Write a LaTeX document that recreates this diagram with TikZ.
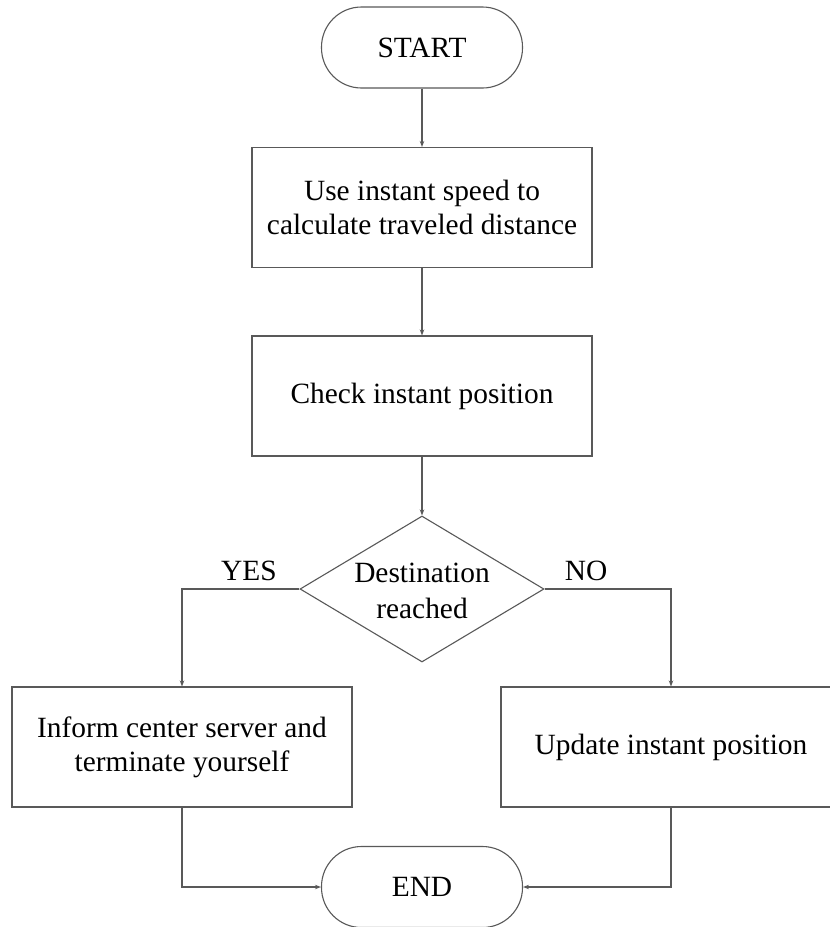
\documentclass[tikz,border=0pt]{standalone}
\usepackage{fontspec}
\setmainfont{Liberation Serif}
\usetikzlibrary{arrows.meta,shapes.geometric}

\tikzset{
  base/.style={draw=black!65, line width=1.1bp, align=center, inner sep=0pt,
    font=\fontsize{29.5}{34}\selectfont, text=black},
  pill/.style={base, rectangle, rounded corners=40bp, minimum width=201bp, minimum height=81bp},
  stepbox/.style={base, rectangle, minimum width=340bp, minimum height=120bp},
  decision/.style={draw=black!65, line width=1.1bp, diamond, inner sep=0pt,
    minimum width=244bp, minimum height=146bp},
  label/.style={align=center, inner sep=0pt, font=\fontsize{29.5}{36}\selectfont, text=black},
  flow/.style={draw=black!65, line width=1.1bp, -{Stealth[length=6bp,width=4.5bp]}},
  branch/.style={font=\fontsize{29.5}{34}\selectfont, text=black}
}

\begin{document}
\begin{tikzpicture}[x=1bp, y=-1bp]
  \clip (0,0) rectangle (830,927);
  \fill[white] (0,0) rectangle (830,927);

  \node[pill]     (start) at (422,47.5) {START};
  \node[stepbox]  (calc)  at (422,207.5) {Use instant speed to\\calculate traveled distance};
  \node[stepbox]  (check) at (422,396) {Check instant position};
  \node[decision] (dest)  at (422,589) {};
  \node[label]    (destText) at (422,591) {Destination\\reached};
  \node[stepbox]  (inform) at (182,747) {Inform center server and\\terminate yourself};
  \node[stepbox]  (update) at (671,747) {Update instant position};
  \node[pill]     (finish) at (422,887) {END};

  \node[branch] (yes) at (249,571) {YES};
  \node[branch] (no)  at (586,571) {NO};

  \draw[flow] (start) -- (calc);
  \draw[flow] (calc) -- (check);
  \draw[flow] (check) -- (dest);
  \draw[flow] (dest.west) -| (inform.north);
  \draw[flow] (dest.east) -| (update.north);
  \draw[flow] (inform.south) |- (finish.west);
  \draw[flow] (update.south) |- (finish.east);
\end{tikzpicture}
\end{document}
